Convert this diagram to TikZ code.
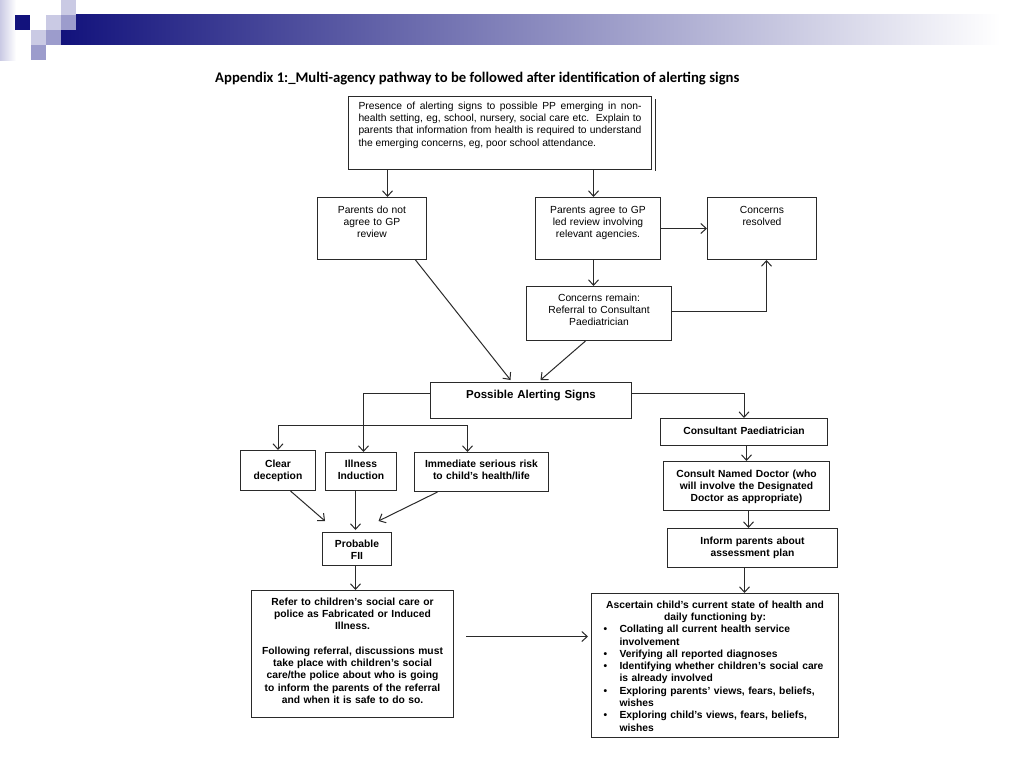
\documentclass[tikz,border=0pt]{standalone}
\usepackage{fontspec}
\setmainfont{Liberation Sans}
\newfontfamily\titlefont{Carlito}
\usetikzlibrary{arrows.meta,positioning}

\definecolor{navy}{HTML}{12127C}
\definecolor{lavlight}{HTML}{CACAE4}
\definecolor{lavmid}{HTML}{9C9CCC}
\definecolor{bargrey}{HTML}{A2A2B8}
\definecolor{line}{HTML}{2A2A2A}

\begin{document}
\begin{tikzpicture}[x=1pt, y=-1pt,
    box/.style={draw=line, line width=1pt, anchor=north west, inner xsep=3pt, inner ysep=0pt,
        align=center, font=\fontsize{10.3}{12.3}\selectfont},
    bbox/.style={box, font=\fontsize{10.3}{12.3}\selectfont\bfseries},
    link/.style={draw=line, line width=1pt, -{Straight Barb[length=5.5pt,width=10pt]}}
]
\useasboundingbox[fill=white] (0,0) rectangle (1024,768);

% header band
\shade[left color=lavlight, right color=white] (0,0) rectangle (16,60);
\shade[left color=navy, middle color=bargrey, right color=white] (61,15) rectangle (1000,45);
\fill[navy] (15,15) rectangle (30,30);
\fill[lavlight] (31,30) rectangle (46,45);
\fill[lavmid] (31,45) rectangle (46,60);
\fill[lavlight] (46,15) rectangle (61,30);
\fill[lavmid] (46,30) rectangle (61,45);
\fill[lavlight] (61,0) rectangle (76,15);
\fill[lavmid] (61,15) rectangle (76,30);

\node[anchor=base west, inner sep=0pt, font=\titlefont\bfseries\fontsize{14.7}{17}\selectfont] (title) at (215,82)
    {Appendix 1:\_Multi-agency pathway to be followed after identification of alerting signs};

% top of the pathway
\node[box, align=justify, inner xsep=10pt, text width=283pt, text height=12.6pt, text depth=60.4pt] (top) at (348,96) {
Presence of alerting signs to possible PP emerging in non-\linebreak
health setting, eg, school, nursery, social care etc.\ \ Explain to\linebreak
parents that information from health is required to understand\linebreak
the emerging concerns, eg, poor school attendance.};
\draw[line, line width=1pt] ([xshift=3pt,yshift=-3pt]top.north east) -- ([xshift=3pt,yshift=-1pt]top.south east);

\node[box, text width=103pt, text height=15.6pt, text depth=46.4pt] (nog) at (317,197) {
Parents do not\\ agree to GP\\ review};
\node[box, text width=119pt, text height=15.6pt, text depth=46.4pt] (agree) at (535,197) {
Parents agree to GP\\ led review involving\\ relevant agencies.};
\node[box, text width=103pt, text height=15.6pt, text depth=46.4pt] (resolved) at (707,197) {
Concerns\\ resolved};
\node[box, text width=139pt, text height=14.6pt, text depth=39.4pt] (remain) at (526,286) {
Concerns remain:\\ Referral to Consultant\\ Paediatrician};

% alerting signs
\node[bbox, font=\fontsize{11.5}{13}\selectfont\bfseries, text width=195pt, text height=15.6pt, text depth=20.4pt] (signs) at (430,382) {
Possible Alerting Signs};
\node[bbox, text width=69pt, text height=16.6pt, text depth=23.4pt] (clear) at (240,450) {
Clear\\ deception};
\node[bbox, text width=65pt, text height=14.6pt, text depth=23.4pt] (illness) at (325,452) {
Illness\\ Induction};
\node[bbox, text width=128pt, text height=14.6pt, text depth=24.4pt] (risk) at (414,452) {
Immediate serious risk\\ to child’s health/life};
\node[bbox, text width=63pt, text height=14.6pt, text depth=18.4pt] (prob) at (322,532) {
Probable\\ FII};
\node[bbox, text width=196pt, text height=14.6pt, text depth=112.4pt] (refer) at (251,590) {
Refer to children’s social care or\\ police as Fabricated or Induced\\ Illness.\\[12.3pt]
Following referral, discussions must\\ take place with children’s social\\
care/the police about who is going\\ to inform the parents of the referral\\ and when it is safe to do so.};

% paediatrician branch
\node[bbox, text width=161pt, text height=15.6pt, text depth=11.4pt] (consult) at (660,418) {
Consultant Paediatrician};
\node[bbox, text width=160pt, text height=15.6pt, text depth=33.4pt] (named) at (663,461) {
Consult Named Doctor (who\\ will involve the Designated\\ Doctor as appropriate)};
\node[bbox, text width=164pt, text height=15.6pt, text depth=23.4pt] (inform) at (667,528) {
Inform parents about\\ assessment plan};
\node[bbox, align=left, text width=241pt, text height=14.6pt, text depth=129.4pt] (ascertain) at (591,593) {
\makebox[\linewidth]{Ascertain child’s current state of health and}\\
\makebox[\linewidth]{daily functioning by:}\\
\hspace*{9pt}\makebox[16pt][l]{•}Collating all current health service\\
\hspace*{25pt}involvement\\
\hspace*{9pt}\makebox[16pt][l]{•}Verifying all reported diagnoses\\
\hspace*{9pt}\makebox[16pt][l]{•}Identifying whether children’s social care\\
\hspace*{25pt}is already involved\\
\hspace*{9pt}\makebox[16pt][l]{•}Exploring parents’ views, fears, beliefs,\\
\hspace*{25pt}wishes\\
\hspace*{9pt}\makebox[16pt][l]{•}Exploring child’s views, fears, beliefs,\\
\hspace*{25pt}wishes};

% connectors
\draw[link] ([xshift=15.5pt]nog.north |- top.south) -- ([xshift=15.5pt]nog.north);
\draw[link] ([xshift=-4.5pt]agree.north |- top.south) -- ([xshift=-4.5pt]agree.north);
\draw[link] (agree.east) -- (resolved.west);
\draw[link] ([xshift=-4.5pt]agree.south) -- ([xshift=-4.5pt]agree.south |- remain.north);
\draw[link] ([yshift=2pt]remain.east) -| ([xshift=4.5pt]resolved.south);
\draw[link] ([xshift=43.5pt]nog.south) -- ([xshift=-20.5pt,yshift=2pt]signs.north);
\draw[link] ([xshift=-13.5pt]remain.south) -- ([xshift=9.5pt,yshift=2pt]signs.north);

\draw[link] ([yshift=7pt]signs.west) -| ([xshift=2.5pt]illness.north);
\draw[link] ([yshift=25pt]clear.north) -- (clear.north);
\draw[link] ([yshift=25pt]clear.north) -| ([xshift=-14pt]risk.north);
\draw[link] ([yshift=7pt]signs.east) -| (consult.north);

\draw[link] ([xshift=12.5pt]clear.south) -- ([xshift=3pt,yshift=11pt]prob.north west);
\draw[link] ([xshift=-5.5pt]illness.south) -- ([xshift=-1.5pt,yshift=2pt]prob.north);
\draw[link] ([xshift=-44pt]risk.south) -- ([xshift=21.5pt,yshift=11pt]prob.north);
\draw[link] ([xshift=-1.5pt]prob.south) -- ([xshift=-1.5pt]prob.south |- refer.north);
\draw[link, shorten <=12pt, shorten >=3pt] ([yshift=17.5pt]refer.east) -- ([yshift=17.5pt]refer.east -| ascertain.west);

\draw[link] ([xshift=2.5pt]consult.south) -- ([xshift=2.5pt]consult.south |- named.north);
\draw[link] ([xshift=2pt]named.south) -- ([xshift=2pt]named.south |- inform.north);
\draw[link] ([xshift=-8pt]inform.south) -- ([xshift=-8pt]inform.south |- ascertain.north);

\end{tikzpicture}
\end{document}
